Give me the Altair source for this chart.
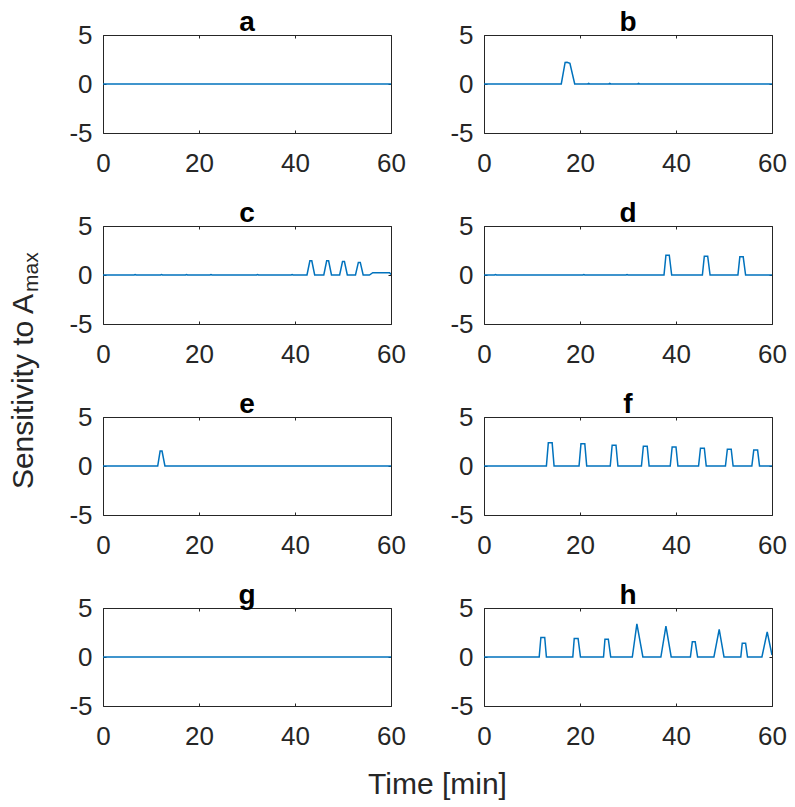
import altair as alt
import pandas as pd

FONT = "Liberation Sans"
LINE_COLOR = "#0072BD"
AX_COLOR = "#262626"

panel_names = ["a", "b", "c", "d", "e", "f", "g", "h"]

# breakpoints of each sensitivity trace (time in min, value)
t_a = [0, 60]
s_a = [0, 0]

t_b = [0, 16.1, 16.9, 17.3, 17.9, 18.9, 21.6, 21.8, 22.0, 26.0, 26.2, 26.4, 32.0, 32.2, 32.4, 60]
s_b = [0, 0, 2.2, 2.22, 2.1, 0, 0, 0.06, 0, 0, 0.06, 0, 0, 0.06, 0, 0]

t_c = [0, 6.5, 6.7, 6.9, 12.0, 12.2, 12.4, 17.2, 17.4, 17.6, 22.3, 22.5, 22.7, 32.0, 32.2, 32.4,
       39.2, 39.4, 39.6,
       42.5, 43.1, 43.5, 44.1,
       46.0, 46.6, 47.0, 47.6,
       49.3, 49.9, 50.3, 50.9,
       52.6, 53.2, 53.6, 54.2,
       55.5, 56.2, 59.7, 60]
s_c = [0, 0, 0.05, 0, 0, 0.05, 0, 0, 0.05, 0, 0, 0.05, 0, 0, 0.05, 0,
       0, 0.05, 0,
       0, 1.45, 1.45, 0,
       0, 1.45, 1.45, 0,
       0, 1.38, 1.38, 0,
       0, 1.28, 1.28, 0,
       0, 0.24, 0.24, 0.05]

t_d = [0, 2.2, 2.4, 2.6, 20.6, 20.8, 21.0, 29.6, 29.8, 30.0,
       37.5, 37.9, 38.6, 39.1,
       45.5, 45.9, 46.6, 47.1,
       52.9, 53.3, 54.0, 54.5, 60]
s_d = [0, 0, 0.05, 0, 0, 0.05, 0, 0, 0.05, 0,
       0, 2.02, 2.02, 0,
       0, 1.92, 1.92, 0,
       0, 1.85, 1.85, 0, 0]

t_e = [0, 11.4, 11.9, 12.3, 12.9, 60]
s_e = [0, 0, 1.52, 1.52, 0, 0]

t_f = [0,
       13.0, 13.4, 14.2, 14.6,
       19.8, 20.2, 21.0, 21.4,
       26.3, 26.7, 27.5, 27.9,
       32.8, 33.2, 34.0, 34.4,
       38.8, 39.2, 40.0, 40.4,
       44.7, 45.1, 45.9, 46.3,
       50.3, 50.7, 51.5, 51.9,
       55.8, 56.2, 57.0, 57.4,
       60]
s_f = [0,
       0, 2.36, 2.36, 0,
       0, 2.26, 2.26, 0,
       0, 2.12, 2.12, 0,
       0, 2.02, 2.02, 0,
       0, 1.95, 1.95, 0,
       0, 1.82, 1.82, 0,
       0, 1.72, 1.72, 0,
       0, 1.62, 1.62, 0,
       0]

t_g = [0, 60]
s_g = [0, 0]

t_h = [0,
       11.5, 11.85, 12.65, 13.0,
       18.5, 18.8, 19.6, 20.1,
       24.9, 25.2, 25.9, 26.4,
       30.9, 31.85, 33.1,
       36.85, 37.9, 39.0,
       43.0, 43.4, 44.0, 44.5,
       47.9, 49.0, 50.0,
       53.5, 53.8, 54.5, 54.9,
       57.9, 59.0, 60]
s_h = [0,
       0, 1.99, 1.99, 0,
       0, 1.89, 1.89, 0,
       0, 1.82, 1.82, 0,
       0, 3.37, 0,
       0, 3.16, 0,
       0, 1.55, 1.55, 0,
       0, 2.83, 0,
       0, 1.41, 1.41, 0,
       0, 2.56, 0.2]

series_t = [t_a, t_b, t_c, t_d, t_e, t_f, t_g, t_h]
series_s = [s_a, s_b, s_c, s_d, s_e, s_f, s_g, s_h]

x_ticks = [0, 20, 40, 60]
y_ticks = [-5, 0, 5]
x_domain = [0, 60]
y_domain = [-5, 5]

y_title_main = ["Sensitivity to A"]
y_title_sub = ["max"]
x_title = ["Time [min]"]

W, H = 288, 98
COL_GAP, ROW_GAP = 93, 93


def make_panel(idx):
    df = pd.DataFrame({"t": series_t[idx], "s": series_s[idx]})
    base = alt.Chart(df)
    xs = alt.Scale(domain=x_domain, nice=False, zero=False)
    ys = alt.Scale(domain=y_domain, nice=False, zero=False)
    common = dict(domain=False, grid=False, tickSize=3, offset=-3, title=None,
                  tickColor=AX_COLOR, labelFlush=False, minExtent=0)
    line = base.mark_line(color=LINE_COLOR, strokeWidth=1.5, clip=True).encode(
        x=alt.X("t:Q", scale=xs, axis=alt.Axis(orient="bottom", values=x_ticks, labelPadding=17,
                                               labelFontSize=26, labelExpr="toString(datum.value)",
                                               **common)),
        y=alt.Y("s:Q", scale=ys, axis=alt.Axis(orient="left", values=y_ticks, labelPadding=11,
                                               labelFontSize=26, labelExpr="toString(datum.value)",
                                               **common)),
    )
    mirror = base.mark_point(opacity=0).encode(
        x=alt.X("t:Q", scale=xs, axis=alt.Axis(orient="top", values=x_ticks, labels=False,
                                               maxExtent=0, **common)),
        y=alt.Y("s:Q", scale=ys, axis=alt.Axis(orient="right", values=y_ticks, labels=False,
                                               maxExtent=0, **common)),
    )
    layers = [line, mirror]
    if idx == 2:
        main = alt.Chart(pd.DataFrame({"label": y_title_main})).mark_text(
            angle=270, align="right", baseline="middle", font=FONT, fontSize=30, color=AX_COLOR
        ).encode(x=alt.value(-79), y=alt.value(68), text="label:N")
        sub = alt.Chart(pd.DataFrame({"label": y_title_sub})).mark_text(
            angle=270, align="left", baseline="middle", font=FONT, fontSize=21, color=AX_COLOR
        ).encode(x=alt.value(-71), y=alt.value(66), text="label:N")
        layers += [main, sub]
    if idx == 6:
        xt = alt.Chart(pd.DataFrame({"label": x_title})).mark_text(
            align="center", baseline="alphabetic", font=FONT, fontSize=30, color=AX_COLOR
        ).encode(x=alt.value(W + COL_GAP / 2), y=alt.value(186), text="label:N")
        layers.append(xt)
    return alt.layer(*layers).resolve_axis(x="independent", y="independent").properties(
        width=W, height=H,
        title=alt.TitleParams(panel_names[idx], font=FONT, fontSize=28, fontWeight="bold",
                              color="#000000", offset=-15, anchor="middle", frame="group"),
    )


chart = alt.concat(*[make_panel(i) for i in range(8)], columns=2,
                   spacing={"row": ROW_GAP, "column": COL_GAP}, bounds="flush").properties(
    padding=0
).configure_view(stroke=AX_COLOR, strokeWidth=1).configure_axis(
    labelFont=FONT, labelColor=AX_COLOR
)

chart.save("out.html", embed_options={"renderer": "svg", "actions": False})
